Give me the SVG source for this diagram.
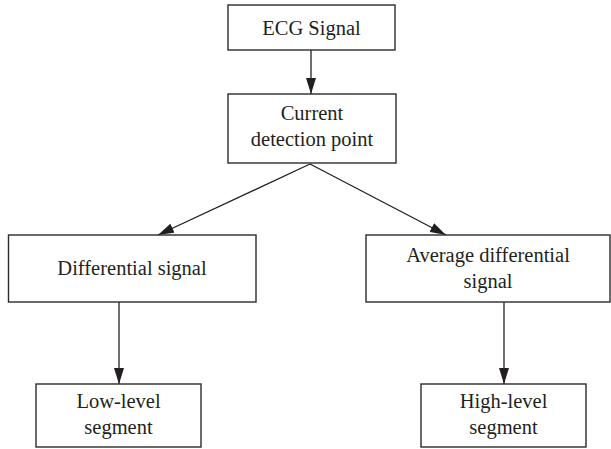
<svg xmlns="http://www.w3.org/2000/svg" width="611" height="449" viewBox="0 0 611 449">
  <style>
    .box { fill: #ffffff; stroke: #2b2b2b; stroke-width: 1.4; }
    .lbl { font-family: "Liberation Serif", "Times New Roman", serif; font-size: 20.5px; fill: #231f20; text-anchor: middle; }
    .edge { stroke: #231f20; stroke-width: 1.3; fill: none; marker-end: url(#arrow); }
  </style>
  <defs>
    <marker id="arrow" viewBox="0 0 16 10" refX="16" refY="5" markerWidth="16" markerHeight="10" markerUnits="userSpaceOnUse" orient="auto">
      <path d="M0,0 L16,5 L0,10 Z" fill="#231f20"/>
    </marker>
  </defs>

  <g id="connectors">
    <line class="edge" x1="311" y1="50" x2="311" y2="94"/>
    <line class="edge" x1="310" y1="164" x2="158" y2="235"/>
    <line class="edge" x1="310" y1="164" x2="446" y2="235"/>
    <line class="edge" x1="119" y1="302" x2="119" y2="384"/>
    <line class="edge" x1="504" y1="302" x2="504" y2="384"/>
  </g>

  <g id="ecg-signal">
    <rect class="box" x="228" y="5" width="167" height="45"/>
    <text class="lbl" x="311.5" y="35">ECG Signal</text>
  </g>

  <g id="current-detection-point">
    <rect class="box" x="228" y="94" width="168" height="69"/>
    <text class="lbl" x="312" y="120">Current</text>
    <text class="lbl" x="312" y="146">detection point</text>
  </g>

  <g id="differential-signal">
    <rect class="box" x="8.5" y="235" width="247.5" height="67"/>
    <text class="lbl" x="132" y="275">Differential signal</text>
  </g>

  <g id="average-differential-signal">
    <rect class="box" x="366" y="235" width="244" height="67"/>
    <text class="lbl" x="488" y="262">Average differential</text>
    <text class="lbl" x="488" y="288">signal</text>
  </g>

  <g id="low-level-segment">
    <rect class="box" x="36" y="384" width="165" height="63"/>
    <text class="lbl" x="118.5" y="408">Low-level</text>
    <text class="lbl" x="118.5" y="434">segment</text>
  </g>

  <g id="high-level-segment">
    <rect class="box" x="421" y="384" width="165" height="63"/>
    <text class="lbl" x="503.5" y="408">High-level</text>
    <text class="lbl" x="503.5" y="434">segment</text>
  </g>
</svg>
